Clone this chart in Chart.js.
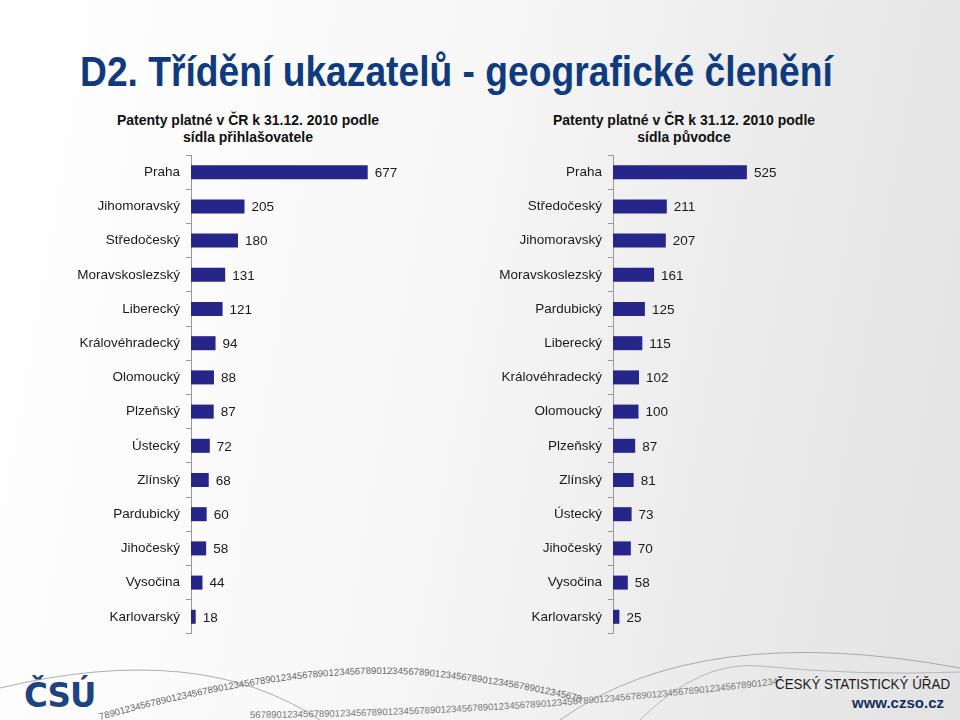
<!DOCTYPE html>
<html>
<head>
<meta charset="utf-8">
<script src="https://cdn.jsdelivr.net/npm/chart.js@4.4.1/dist/chart.umd.min.js"></script>
<style>
  html, body { margin: 0; padding: 0; }
  body {
    width: 960px; height: 720px; position: relative; overflow: hidden;
    background: linear-gradient(100deg, #ffffff 0%, #f7f7f7 45%, #e9e9e9 80%, #e3e3e3 100%);
    font-family: "Liberation Sans", Arial, sans-serif;
  }
  #title {
    position: absolute; left: 80px; top: 47px; margin: 0;
    font-size: 43px; font-weight: bold; color: #0f3b7e; white-space: nowrap;
    transform-origin: 0 0;
  }
  .sub {
    position: absolute; top: 112px; width: 340px; text-align: center;
    font-size: 14px; font-weight: bold; color: #111; line-height: 17px;
  }
  .box { position: absolute; }
  #foot1 { position: absolute; left: 775px; top: 675px; font-size: 15px; color: #1a1a1a; white-space: nowrap; transform-origin: 0 0; }
  #foot2 { position: absolute; left: 852px; top: 694px; font-size: 15px; font-weight: bold; color: #12305e; white-space: nowrap; }
  #logo { position: absolute; left: 24px; top: 676px; font-size: 33px; font-weight: 900; color: #1d4380; letter-spacing: -1px; font-family: "DejaVu Sans", sans-serif; transform-origin: 0 0; }
  svg { position: absolute; left: 0; top: 0; }
</style>
</head>
<body>
<svg width="960" height="720">
  <defs>
    <path id="streamA" d="M 100 720 Q 300 664 430 676 Q 520 686 580 702" />
    <path id="streamB" d="M 250 718 Q 520 716 780 684" />
  </defs>
  <path d="M 0 688 Q 200 640 320 720" fill="none" stroke="#999" stroke-width="0.8"/>
  <path d="M 560 720 Q 700 620 960 668" fill="none" stroke="#999" stroke-width="0.8"/>
  <path d="M 640 720 Q 700 660 760 666 Q 860 676 960 672" fill="none" stroke="#aaa" stroke-width="0.8"/>
  <text font-size="9.5" fill="#666" font-family="Liberation Sans"><textPath href="#streamA">7890123456789012345678901234567890123456789012345678901234567890123456789012345678901234567890</textPath></text>
  <text font-size="9.5" fill="#777" font-family="Liberation Sans"><textPath href="#streamB">56789012345678901234567890123456789012345678901234567890123456789012345678901234567890123456789012345</textPath></text>
</svg>

<h1 id="title">D2. Třídění ukazatelů - geografické členění</h1>
<div class="sub" style="left:78px">Patenty platné v ČR k 31.12. 2010 podle<br>sídla přihlašovatele</div>
<div class="sub" style="left:514px">Patenty platné v ČR k 31.12. 2010 podle<br>sídla původce</div>

<div class="box" style="left:60px; top:141px; width:392px; height:507px;"><canvas id="chartLeft"></canvas></div>
<div class="box" style="left:480px; top:141px; width:388px; height:507px;"><canvas id="chartRight"></canvas></div>

<div id="logo">ČSÚ</div>
<div id="foot1">ČESKÝ STATISTICKÝ ÚŘAD</div>
<div id="foot2">www.czso.cz</div>

<script>
"use strict";

const applicantRegions = ["Praha", "Jihomoravský", "Středočeský", "Moravskoslezský", "Liberecký", "Královéhradecký", "Olomoucký", "Plzeňský", "Ústecký", "Zlínský", "Pardubický", "Jihočeský", "Vysočina", "Karlovarský"];
const applicantValues = [677, 205, 180, 131, 121, 94, 88, 87, 72, 68, 60, 58, 44, 18];

const originRegions = ["Praha", "Středočeský", "Jihomoravský", "Moravskoslezský", "Pardubický", "Liberecký", "Královéhradecký", "Olomoucký", "Plzeňský", "Zlínský", "Ústecký", "Jihočeský", "Vysočina", "Karlovarský"];
const originValues = [525, 211, 207, 161, 125, 115, 102, 100, 87, 81, 73, 70, 58, 25];

// squeeze texts to the widths of the original narrow fonts
function fitWidth(id, width) {
    const el = document.getElementById(id);
    el.style.transform = "scaleX(" + (width / el.scrollWidth) + ")";
}
fitWidth("title", 753);
fitWidth("foot1", 175);
fitWidth("logo", 71);

const valueLabels = {
    id: "valueLabels",
    afterDatasetsDraw(chart) {
        const ctx = chart.ctx;
        const meta = chart.getDatasetMeta(0);
        ctx.save();
        ctx.font = "13.5px 'Liberation Sans', Arial, sans-serif";
        ctx.fillStyle = "#1a1a1a";
        ctx.textBaseline = "middle";
        meta.data.forEach((bar, i) => {
            ctx.fillText(chart.data.datasets[0].data[i], bar.x + 7, bar.y + 1);
        });
        ctx.restore();
    }
};

function makeChart(id, labels, values, axisWidth, max) {
    const ctx = document.getElementById(id).getContext("2d");
    return new Chart(ctx, {
        type: "bar",
        data: {
            labels: labels,
            datasets: [{
                data: values,
                backgroundColor: "#25258a",
                categoryPercentage: 1,
                barPercentage: 0.41
            }]
        },
        options: {
            indexAxis: "y",
            responsive: true,
            maintainAspectRatio: false,
            animation: false,
            layout: { padding: 0 },
            plugins: { legend: { display: false }, tooltip: { enabled: false } },
            scales: {
                x: { display: false, min: 0, max: max },
                y: {
                    afterFit(scale) { scale.width = axisWidth; },
                    grid: { drawOnChartArea: false, tickLength: 5, color: "#999", offset: true },
                    border: { color: "#999" },
                    ticks: { color: "#1a1a1a", padding: 6, font: { family: "'Liberation Sans', Arial, sans-serif", size: 13.5 } }
                }
            }
        },
        plugins: [valueLabels]
    });
}

makeChart("chartLeft", applicantRegions, applicantValues, 131, 1000);
makeChart("chartRight", originRegions, originValues, 133, 1000);
</script>
</body>
</html>
